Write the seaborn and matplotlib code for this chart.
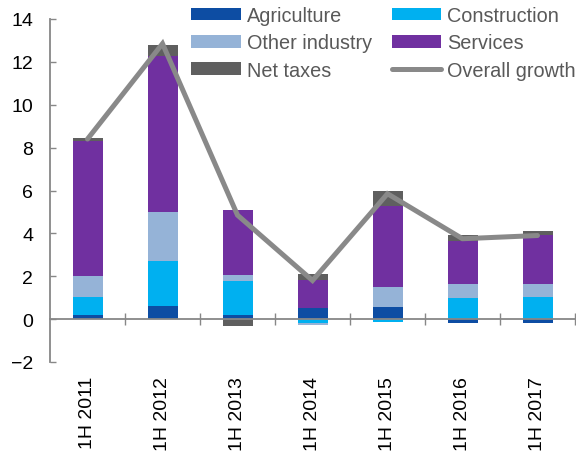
import numpy as np
import seaborn as sns
import matplotlib.pyplot as plt
from matplotlib.patches import Patch
from matplotlib.lines import Line2D

# contributions to growth, percentage points
periods = ["1H 2011", "1H 2012", "1H 2013", "1H 2014", "1H 2015", "1H 2016", "1H 2017"]
agriculture = [0.20, 0.59, 0.20, 0.50, 0.58, -0.20, -0.20]
construction = [0.85, 2.12, 1.60, -0.19, -0.13, 0.97, 1.04]
other_industry = [0.97, 2.30, 0.27, -0.10, 0.90, 0.68, 0.61]
services = [6.28, 7.26, 3.00, 1.34, 3.79, 2.01, 2.29]
net_taxes = [0.17, 0.53, -0.30, 0.25, 0.71, 0.27, 0.19]
overall_growth = [8.4, 12.85, 4.85, 1.8, 5.85, 3.75, 3.9]

sns.set_theme(style="ticks")
plt.rcParams["font.family"] = ["Liberation Sans", "DejaVu Sans"]

grey = "#878787"
components = [
    ("Agriculture", agriculture, "#0d4da3"),
    ("Construction", construction, "#00b0f0"),
    ("Other industry", other_industry, "#95b3d7"),
    ("Services", services, "#7030a0"),
    ("Net taxes", net_taxes, "#5f5f5f"),
]

fig = plt.figure(figsize=(5.76, 4.56), dpi=100)
ax = fig.add_axes([50 / 576, 1 - 363 / 456, 525 / 576, 343 / 456])

pos_base = np.zeros(len(periods))
neg_base = np.zeros(len(periods))
for name, vals, color in components:
    v = np.array(vals)
    bottom = np.where(v >= 0, pos_base, neg_base)
    sns.barplot(x=periods, y=v, bottom=bottom, color=color, saturation=1,
                width=0.4, linewidth=0, errorbar=None, ax=ax)
    pos_base += np.clip(v, 0, None)
    neg_base += np.clip(v, None, 0)

sns.lineplot(x=periods, y=overall_growth, color="#898989", linewidth=3.6,
             sort=False, ax=ax, solid_joinstyle="miter", zorder=5)

ax.set_xlim(-0.5, 6.5)
ax.set_ylim(-2, 14)
ax.set_yticks(range(-2, 15, 2))
ax.set_xlabel("")
ax.set_ylabel("")

sns.despine(ax=ax)
ax.spines["bottom"].set_position(("data", 0))
for s in ["bottom", "left"]:
    ax.spines[s].set_color(grey)
    ax.spines[s].set_linewidth(1.3)

ax.tick_params(axis="y", direction="in", length=4, width=1, color=grey,
               labelsize=14, pad=12, labelcolor="black")
ax.set_xticks(range(len(periods)))
ax.set_xticklabels(periods, rotation=90)
ax.tick_params(axis="x", which="major", length=0, labelsize=14, pad=41,
               labelcolor="black")
ax.set_xticks(np.arange(0.5, 7, 1), minor=True)
ax.tick_params(axis="x", which="minor", direction="inout", length=8, width=1,
               color=grey, bottom=True)

# legend, filled column by column
handles = {name: Patch(facecolor=color, linewidth=0) for name, _, color in components}
handles["Overall growth"] = Line2D([0], [0], color="#898989", linewidth=3.6,
                                   solid_capstyle="round")
order = ["Agriculture", "Other industry", "Net taxes",
         "Construction", "Services", "Overall growth"]
fig.legend([handles[k] for k in order], order, ncol=2, frameon=False,
           loc="upper left", bbox_to_anchor=(191 / 576, 1 - 7 / 456),
           borderaxespad=0, borderpad=0, fontsize=14.3, labelcolor="#595959",
           handlelength=2.5, handleheight=0.6, handletextpad=0.3,
           columnspacing=1.0, labelspacing=0.42)

fig.savefig("out.png", dpi=100)
